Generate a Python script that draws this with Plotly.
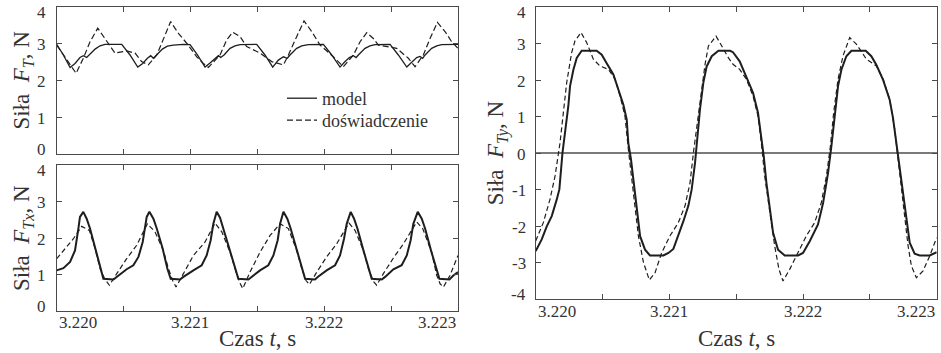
import plotly.graph_objects as go

T0 = 3.220  # s, start of the time window

# ---------------- top-left panel: F_T ----------------
ft_model_dt = [0.000, 0.050, 0.100, 0.137, 0.174, 0.199, 0.224, 0.244, 0.287, 0.324, 0.361, 0.486, 0.548, 0.606,
               0.643, 0.678, 0.703, 0.723, 0.748, 0.790, 0.827, 0.872, 0.947, 0.997, 1.052, 1.109,
               1.146, 1.184, 1.209, 1.226, 1.251, 1.296, 1.333, 1.371, 1.495, 1.557, 1.615,
               1.657, 1.695, 1.724, 1.744, 1.794, 1.832, 1.881, 1.994, 2.056, 2.118,
               2.156, 2.188, 2.218, 2.238, 2.255, 2.305, 2.342, 2.380, 2.492, 2.554, 2.617,
               2.654, 2.691, 2.716, 2.736, 2.754, 2.803, 2.841, 2.878, 3.000]  # ms
ft_model = [2.99, 2.70, 2.36, 2.47, 2.63, 2.68, 2.63, 2.70, 2.86, 2.95, 2.99, 2.99, 2.70, 2.37,
            2.47, 2.61, 2.68, 2.61, 2.70, 2.86, 2.94, 2.97, 2.99, 2.98, 2.70, 2.37,
            2.48, 2.61, 2.68, 2.63, 2.70, 2.88, 2.95, 2.98, 2.99, 2.70, 2.37,
            2.56, 2.65, 2.61, 2.70, 2.88, 2.95, 2.98, 2.99, 2.70, 2.37,
            2.52, 2.63, 2.68, 2.63, 2.70, 2.88, 2.95, 2.98, 2.99, 2.70, 2.37,
            2.50, 2.63, 2.66, 2.61, 2.70, 2.88, 2.95, 2.98, 2.99]

ft_exp_dt = [0.000, 0.075, 0.145, 0.199, 0.249, 0.307, 0.361, 0.436, 0.523, 0.586, 0.635, 0.685, 0.748, 0.797,
             0.852, 0.910, 0.972, 1.047, 1.096, 1.134, 1.221, 1.271, 1.316, 1.371, 1.420, 1.520, 1.607, 1.695,
             1.732, 1.794, 1.849, 1.906, 1.969, 2.068, 2.143, 2.218, 2.268, 2.318, 2.367, 2.405, 2.542, 2.629,
             2.679, 2.741, 2.791, 2.846, 2.903, 2.953, 3.000]
ft_exp = [2.97, 2.56, 2.20, 2.61, 3.06, 3.43, 3.15, 2.75, 2.81, 2.75, 2.52, 2.43, 2.70, 3.15,
          3.61, 3.29, 3.02, 2.65, 2.47, 2.36, 2.70, 3.11, 3.32, 3.20, 2.93, 2.75, 2.52, 2.43,
          2.70, 3.20, 3.63, 3.34, 2.97, 2.65, 2.38, 2.70, 3.06, 3.31, 3.15, 2.97, 2.88, 2.61,
          2.38, 2.70, 3.15, 3.59, 3.34, 3.06, 2.88]

# ---------------- bottom-left panel: F_Tx ----------------
ftx_model_dt = [0.000, 0.050, 0.100, 0.137, 0.162, 0.174, 0.199, 0.224, 0.249, 0.287,
                0.324, 0.349, 0.424, 0.449, 0.523, 0.573, 0.611, 0.643, 0.660, 0.673,
                0.693, 0.723, 0.748, 0.792, 0.827, 0.852, 0.922, 0.947, 1.022, 1.084,
                1.121, 1.151, 1.171, 1.196, 1.221, 1.246, 1.296, 1.333, 1.358, 1.433,
                1.458, 1.520, 1.582, 1.620, 1.652, 1.670, 1.695, 1.724, 1.749, 1.794,
                1.832, 1.857, 1.931, 1.956, 2.018, 2.081, 2.118, 2.148, 2.168, 2.198,
                2.223, 2.248, 2.293, 2.330, 2.355, 2.430, 2.455, 2.517, 2.579, 2.617,
                2.646, 2.666, 2.699, 2.729, 2.754, 2.798, 2.836, 2.861, 2.936, 2.965, 3.000]
ftx_model = [1.11, 1.17, 1.34, 1.66, 2.26, 2.58, 2.72, 2.53, 2.26, 1.71,
             1.16, 0.88, 0.86, 0.93, 1.14, 1.25, 1.48, 1.89, 2.35, 2.58,
             2.72, 2.53, 2.26, 1.71, 1.16, 0.88, 0.86, 0.93, 1.11, 1.25,
             1.52, 1.94, 2.39, 2.72, 2.56, 2.26, 1.66, 1.16, 0.88, 0.86,
             0.93, 1.11, 1.25, 1.52, 1.94, 2.39, 2.72, 2.53, 2.26, 1.66,
             1.16, 0.88, 0.86, 0.94, 1.11, 1.25, 1.52, 1.98, 2.39, 2.72,
             2.53, 2.26, 1.66, 1.16, 0.88, 0.86, 0.93, 1.14, 1.25, 1.52,
             1.94, 2.39, 2.72, 2.53, 2.26, 1.66, 1.16, 0.88, 0.86, 0.97, 1.06]

ftx_exp_dt = [0.000, 0.075, 0.125, 0.187, 0.244, 0.287, 0.324, 0.361, 0.394, 0.449,
              0.523, 0.598, 0.678, 0.735, 0.797, 0.835, 0.867, 0.892, 0.947, 1.022,
              1.109, 1.184, 1.234, 1.296, 1.333, 1.366, 1.391, 1.445, 1.520, 1.595,
              1.670, 1.732, 1.794, 1.832, 1.864, 1.889, 1.944, 2.018, 2.093, 2.185,
              2.230, 2.293, 2.330, 2.367, 2.392, 2.442, 2.517, 2.592, 2.691, 2.736,
              2.803, 2.841, 2.866, 2.891, 2.940, 3.000]
ftx_exp = [1.43, 1.75, 1.98, 2.32, 2.21, 1.71, 1.16, 0.86, 0.70, 1.02,
           1.43, 1.80, 2.39, 2.17, 1.66, 1.16, 0.83, 0.65, 1.02, 1.52,
           1.89, 2.41, 2.17, 1.61, 1.16, 0.79, 0.61, 1.06, 1.61, 2.07,
           2.39, 2.26, 1.66, 1.16, 0.83, 0.72, 1.06, 1.48, 1.84, 2.41,
           2.21, 1.66, 1.16, 0.81, 0.70, 1.02, 1.45, 1.84, 2.44, 2.26,
           1.61, 0.97, 0.74, 0.65, 0.97, 1.52]

# ---------------- right panel: F_Ty ----------------
fty_model_dt = [0.000, 0.045, 0.082, 0.120, 0.157, 0.177, 0.200, 0.220, 0.244, 0.257,
                0.282, 0.307, 0.344, 0.456, 0.494, 0.531, 0.581, 0.619, 0.656, 0.681,
                0.693, 0.713, 0.738, 0.761, 0.781, 0.818, 0.855, 0.955, 0.993, 1.030,
                1.067, 1.105, 1.142, 1.167, 1.192, 1.205, 1.229, 1.254, 1.279, 1.317,
                1.367, 1.454,
                1.476, 1.526, 1.576, 1.626, 1.663, 1.688, 1.706, 1.726, 1.751, 1.776,
                1.813, 1.863, 1.963, 2.000, 2.050, 2.112, 2.150, 2.187, 2.212, 2.237,
                2.262, 2.287, 2.324, 2.362, 2.469, 2.511, 2.549, 2.599, 2.648, 2.673,
                2.698, 2.723, 2.748, 2.773, 2.798, 2.835, 2.873, 2.948, 3.000]
fty_model = [-2.68, -2.36, -2.01, -1.72, -1.27, -0.99, 0.00, 0.56, 1.29, 1.84,
             2.29, 2.61, 2.81, 2.81, 2.70, 2.47, 2.16, 1.74, 1.33, 0.92,
             0.28, -0.17, -0.99, -1.72, -2.27, -2.64, -2.80, -2.80, -2.73, -2.62,
             -2.27, -1.86, -1.44, -0.99, -0.26, 0.28, 1.20, 1.93, 2.38, 2.66,
             2.81, 2.81,
             2.77, 2.52, 2.11, 1.66, 1.11, 0.47, -0.08, -0.81, -1.54, -2.18,
             -2.64, -2.80, -2.80, -2.73, -2.41, -1.95, -1.36, -0.54, 0.19, 1.11,
             1.84, 2.29, 2.66, 2.81, 2.81, 2.66, 2.42, 2.01, 1.47, 0.97,
             0.28, -0.45, -1.18, -1.91, -2.45, -2.75, -2.80, -2.80, -2.71]

fty_exp_dt = [0.000, 0.057, 0.107, 0.145, 0.182, 0.207, 0.232, 0.269, 0.294, 0.339,
              0.382, 0.431, 0.481, 0.544, 0.594, 0.631, 0.668, 0.693, 0.718, 0.743,
              0.768, 0.806, 0.850, 0.893, 0.943, 1.005, 1.067, 1.117, 1.155, 1.180,
              1.205, 1.234, 1.267, 1.292, 1.349, 1.392, 1.441,
              1.476, 1.526, 1.576, 1.626, 1.663, 1.688, 1.713, 1.751, 1.788, 1.820,
              1.850, 1.900, 1.963, 2.025, 2.087, 2.137, 2.175, 2.205, 2.229, 2.262,
              2.299, 2.349, 2.399, 2.474, 2.549, 2.599, 2.648, 2.686, 2.711, 2.736,
              2.761, 2.786, 2.811, 2.848, 2.898, 2.948, 2.985, 3.000]
fty_exp = [-2.40, -1.90, -1.26, -0.62, 0.29, 1.11, 1.94, 2.76, 3.08, 3.31,
           3.03, 2.58, 2.39, 2.30, 2.03, 1.57, 1.02, 0.11, -0.71, -1.53,
           -2.26, -2.99, -3.47, -3.27, -2.72, -2.26, -1.90, -1.44, -0.80, 0.02,
           0.75, 1.57, 2.44, 2.94, 3.21, 2.94, 2.62,
           2.44, 2.30, 2.03, 1.57, 1.02, 0.29, -0.62, -1.63, -2.54, -3.18,
           -3.50, -3.18, -2.72, -2.26, -1.90, -1.35, -0.62, 0.20, 1.11, 2.03,
           2.67, 3.17, 2.99, 2.58, 2.39, 2.03, 1.48, 0.66, -0.16, -0.99,
           -1.81, -2.54, -3.09, -3.41, -3.22, -2.81, -2.45, -2.31]

# ---------------- ticks / labels ----------------
x_ticks = [3.2200, 3.2205, 3.2210, 3.2215, 3.2220, 3.2225, 3.2230]
x_label_vals = [3.220, 3.221, 3.222, 3.223]
x_label_text = ["3.220", "3.221", "3.222", "3.223"]
y_left_vals = [0, 1, 2, 3, 4]
y_left_text = ["0", "1", "2", "3", "4"]
y_right_vals = [-4, -3, -2, -1, 0, 1, 2, 3, 4]
y_right_text = ["-4", "-3", "-2", "-1", "0", "1", "2", "3", "4"]

legend_names = ["model", "doświadczenie"]
y_titles = ["Siła  <i>F</i><sub><i>T</i></sub>, N",
            "Siła  <i>F</i><sub><i>Tx</i></sub>, N",
            "Siła  <i>F</i><sub><i>Ty</i></sub>, N"]
x_title = "Czas <i>t</i>, s"


def to_t(dts):
    return [T0 + d / 1000.0 for d in dts]


FONT = "Liberation Serif"
INK = "#1e1e1e"
AX = "#4a4a4a"
TXT = "#333333"
W, H = 941, 353

fig = go.Figure()

# top-left
fig.add_trace(go.Scatter(x=to_t(ft_model_dt), y=ft_model, mode="lines", name=legend_names[0],
                         line=dict(color=INK, width=1.3), xaxis="x", yaxis="y", legend="legend"))
fig.add_trace(go.Scatter(x=to_t(ft_exp_dt), y=ft_exp, mode="lines", name=legend_names[1],
                         line=dict(color=INK, width=1.2, dash="6px,3px"), xaxis="x", yaxis="y",
                         legend="legend2"))
# bottom-left
fig.add_trace(go.Scatter(x=to_t(ftx_model_dt), y=ftx_model, mode="lines", showlegend=False,
                         line=dict(color=INK, width=2.0), xaxis="x2", yaxis="y2"))
fig.add_trace(go.Scatter(x=to_t(ftx_exp_dt), y=ftx_exp, mode="lines", showlegend=False,
                         line=dict(color=INK, width=1.2, dash="5px,3px"), xaxis="x2", yaxis="y2"))
# right
fig.add_trace(go.Scatter(x=to_t(fty_model_dt), y=fty_model, mode="lines", showlegend=False,
                         line=dict(color=INK, width=2.0), xaxis="x3", yaxis="y3"))
fig.add_trace(go.Scatter(x=to_t(fty_exp_dt), y=fty_exp, mode="lines", showlegend=False,
                         line=dict(color=INK, width=1.2, dash="5px,3px"), xaxis="x3", yaxis="y3"))

left_x = [56.7 / W, 458.0 / W]
right_x = [535.7 / W, 936.7 / W]
top_y = [1 - 154.0 / H, 1 - 7.3 / H]
bot_y = [1 - 310.7 / H, 1 - 165.3 / H]
rgt_y = [1 - 299.3 / H, 1 - 7.3 / H]

xcommon = dict(range=[3.220, 3.223], tickmode="array", tickvals=x_ticks, showticklabels=False,
               ticks="inside", ticklen=5, tickcolor=AX, showline=True, linecolor=AX, linewidth=1.2,
               mirror="ticks", showgrid=False, zeroline=False)
ycommon = dict(tickmode="array", ticks="inside", ticklen=5, tickcolor=AX, showline=True,
               linecolor=AX, linewidth=1.2, mirror="ticks", showgrid=False, showticklabels=False)

leg_common = dict(xanchor="left", yanchor="top", bgcolor="rgba(0,0,0,0)",
                  font=dict(family=FONT, size=18, color=TXT), itemwidth=30)

fig.update_layout(
    width=W, height=H, margin=dict(l=0, r=0, t=0, b=0),
    paper_bgcolor="white", plot_bgcolor="white",
    font=dict(family=FONT, color=TXT),
    xaxis=dict(domain=left_x, anchor="y", **xcommon),
    xaxis2=dict(domain=left_x, anchor="y2", **xcommon),
    xaxis3=dict(domain=right_x, anchor="y3", **xcommon),
    yaxis=dict(domain=top_y, anchor="x", range=[0, 4], tickvals=y_left_vals, zeroline=False, **ycommon),
    yaxis2=dict(domain=bot_y, anchor="x2", range=[0, 4], tickvals=y_left_vals, zeroline=False, **ycommon),
    yaxis3=dict(domain=rgt_y, anchor="x3", range=[-4, 4], tickvals=y_right_vals,
                zeroline=True, zerolinecolor="#7a7a7a", zerolinewidth=1.5, **ycommon),
    legend=dict(x=282 / W, y=1 - 80 / H, **leg_common),
    legend2=dict(x=282 / W, y=1 - 102 / H, **leg_common),
    showlegend=True,
)

ann = []
# x tick labels: edge labels kept inside the frame, as in the original
x_anchors = ["left", "center", "center", "right"]
for xa, ypix in (("x2", 322.5), ("x3", 311.0)):
    for v, txt, a in zip(x_label_vals, x_label_text, x_anchors):
        ann.append(dict(x=v, y=1 - ypix / H, xref=xa, yref="paper", text=txt, showarrow=False,
                        xanchor=a, yanchor="middle", font=dict(family=FONT, size=17, color=TXT)))
# y tick labels: extreme labels nudged inside the frame, as in the original
for ya, xpix, vals, texts in (("y", 47.5, y_left_vals, y_left_text),
                              ("y2", 47.5, y_left_vals, y_left_text),
                              ("y3", 527.5, y_right_vals, y_right_text)):
    for v, txt in zip(vals, texts):
        shift = 4.5 if v == min(vals) else (-5 if v == max(vals) else -1)
        ann.append(dict(x=xpix / W, y=v, xref="paper", yref=ya, text=txt, showarrow=False,
                        xanchor="right", yanchor="middle", yshift=shift,
                        font=dict(family=FONT, size=17, color=TXT)))
# axis titles
for xc in (257, 736):
    ann.append(dict(x=xc / W, y=0, xref="paper", yref="paper", text=x_title, showarrow=False,
                    xanchor="center", yanchor="bottom", font=dict(family=FONT, size=23, color=TXT)))
for txt, xp, yp in ((y_titles[0], 23, 80.6), (y_titles[1], 23, 238), (y_titles[2], 497, 153.3)):
    ann.append(dict(x=xp / W, y=1 - yp / H, xref="paper", yref="paper", text=txt, showarrow=False,
                    textangle=-90, xanchor="center", yanchor="middle",
                    font=dict(family=FONT, size=23, color=TXT)))
fig.update_layout(annotations=ann)

# remove the browser's default 8px page margin so the figure fills the window exactly
fig.write_html("out.html", config={"displayModeBar": False},
               post_script="document.body.style.margin='0px';document.body.style.overflow='hidden';")
